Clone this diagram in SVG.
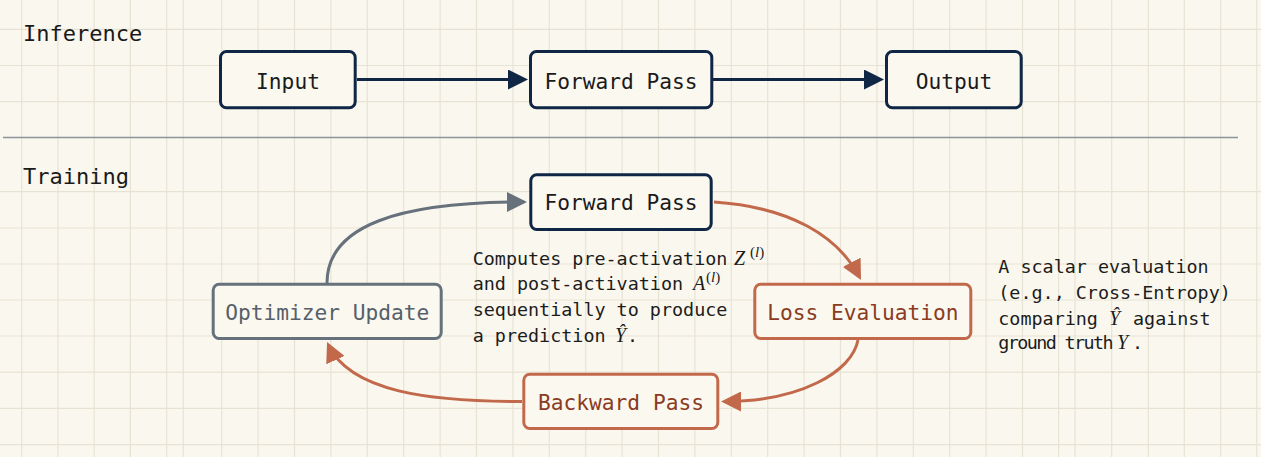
<svg xmlns="http://www.w3.org/2000/svg" width="1261" height="457" viewBox="0 0 1261 457">
  <defs>
    <style>
      .grid line { stroke: #e7e3d4; stroke-width: 1.2; }
      .box { fill: #fbf8f0; stroke-width: 3; }
      .navy { stroke: #0f2645; }
      .grey { stroke: #66717b; }
      .rust { stroke: #c2694b; }
      .lbl { font-family: "DejaVu Sans Mono", "Liberation Mono", monospace; font-size: 21.2px; text-anchor: middle; }
      .sec { font-family: "DejaVu Sans Mono", "Liberation Mono", monospace; font-size: 22px; fill: #1a1a1a; }
      .note { font-family: "DejaVu Sans Mono", "Liberation Mono", monospace; font-size: 18.4px; fill: #1c1c1c; }
      .m { font-family: "Liberation Serif", "DejaVu Serif", serif; font-style: italic; font-size: 20px; }
      .sup { font-family: "Liberation Serif", "DejaVu Serif", serif; font-size: 15px; }
      .conn { fill: none; stroke-width: 3; }
    </style>
    <marker id="ahNavy" viewBox="0 0 20 20" refX="17" refY="10" markerWidth="20" markerHeight="20" markerUnits="userSpaceOnUse" orient="auto">
      <path d="M0,0 L20,10 L0,20 z" fill="#0f2645"/>
    </marker>
    <marker id="ahGrey" viewBox="0 0 20 20" refX="17" refY="10" markerWidth="20" markerHeight="20" markerUnits="userSpaceOnUse" orient="auto">
      <path d="M0,0 L20,10 L0,20 z" fill="#66717b"/>
    </marker>
    <marker id="ahRust" viewBox="0 0 20 20" refX="17" refY="10" markerWidth="20" markerHeight="20" markerUnits="userSpaceOnUse" orient="auto">
      <path d="M0,0 L20,10 L0,20 z" fill="#c2694b"/>
    </marker>
  </defs>

  <rect x="0" y="0" width="1261" height="457" fill="#faf7ee"/>

  <g id="grid" class="grid">
    <line x1="21.7" y1="0" x2="21.7" y2="457"/>
    <line x1="58" y1="0" x2="58" y2="457"/>
    <line x1="94.2" y1="0" x2="94.2" y2="457"/>
    <line x1="130.4" y1="0" x2="130.4" y2="457"/>
    <line x1="166.7" y1="0" x2="166.7" y2="457"/>
    <line x1="183.3" y1="0" x2="183.3" y2="457"/>
    <line x1="221.7" y1="0" x2="221.7" y2="457"/>
    <line x1="258.1" y1="0" x2="258.1" y2="457"/>
    <line x1="294.5" y1="0" x2="294.5" y2="457"/>
    <line x1="330.9" y1="0" x2="330.9" y2="457"/>
    <line x1="367.3" y1="0" x2="367.3" y2="457"/>
    <line x1="403.7" y1="0" x2="403.7" y2="457"/>
    <line x1="440.1" y1="0" x2="440.1" y2="457"/>
    <line x1="476.5" y1="0" x2="476.5" y2="457"/>
    <line x1="512.9" y1="0" x2="512.9" y2="457"/>
    <line x1="549.3" y1="0" x2="549.3" y2="457"/>
    <line x1="585.7" y1="0" x2="585.7" y2="457"/>
    <line x1="622.1" y1="0" x2="622.1" y2="457"/>
    <line x1="658.5" y1="0" x2="658.5" y2="457"/>
    <line x1="694.9" y1="0" x2="694.9" y2="457"/>
    <line x1="731.3" y1="0" x2="731.3" y2="457"/>
    <line x1="767.7" y1="0" x2="767.7" y2="457"/>
    <line x1="804.1" y1="0" x2="804.1" y2="457"/>
    <line x1="840.5" y1="0" x2="840.5" y2="457"/>
    <line x1="876.9" y1="0" x2="876.9" y2="457"/>
    <line x1="913.3" y1="0" x2="913.3" y2="457"/>
    <line x1="949.7" y1="0" x2="949.7" y2="457"/>
    <line x1="986.1" y1="0" x2="986.1" y2="457"/>
    <line x1="1022.5" y1="0" x2="1022.5" y2="457"/>
    <line x1="1058.6" y1="0" x2="1058.6" y2="457"/>
    <line x1="1075" y1="0" x2="1075" y2="457"/>
    <line x1="1111.7" y1="0" x2="1111.7" y2="457"/>
    <line x1="1148.3" y1="0" x2="1148.3" y2="457"/>
    <line x1="1184.3" y1="0" x2="1184.3" y2="457"/>
    <line x1="1220.7" y1="0" x2="1220.7" y2="457"/>
    <line x1="1256.7" y1="0" x2="1256.7" y2="457"/>
    <line x1="0" y1="29.3" x2="1261" y2="29.3"/>
    <line x1="0" y1="65.5" x2="1261" y2="65.5"/>
    <line x1="0" y1="101.7" x2="1261" y2="101.7"/>
    <line x1="0" y1="191.7" x2="1261" y2="191.7"/>
    <line x1="0" y1="228" x2="1261" y2="228"/>
    <line x1="0" y1="264" x2="1261" y2="264"/>
    <line x1="0" y1="300" x2="1261" y2="300"/>
    <line x1="0" y1="336" x2="1261" y2="336"/>
    <line x1="0" y1="372.2" x2="1261" y2="372.2"/>
    <line x1="0" y1="408.4" x2="1261" y2="408.4"/>
    <line x1="0" y1="444.6" x2="1261" y2="444.6"/>
  </g>

  <line id="separator" x1="3" y1="137.5" x2="1238" y2="137.5" stroke="#8d949a" stroke-width="1.6"/>
  <text id="title-inference" class="sec" x="23" y="40.5">Inference</text>
  <text id="title-training" class="sec" x="23" y="184">Training</text>

  <g id="connectors">
    <line class="conn navy" x1="357" y1="79.5" x2="525" y2="79.5" marker-end="url(#ahNavy)"/>
    <line class="conn navy" x1="713" y1="79.5" x2="881" y2="79.5" marker-end="url(#ahNavy)"/>
    <path class="conn grey" d="M327,283 C327,225 400,202 524,202" marker-end="url(#ahGrey)"/>
    <path class="conn rust" d="M714,202 C790,207 838,236 859.6,277.3" marker-end="url(#ahRust)"/>
    <path class="conn rust" d="M858,340 C852,372 800,401.5 724,401.5" marker-end="url(#ahRust)"/>
    <path class="conn rust" d="M522,401.5 C430,401.5 350,392 328.3,344.7" marker-end="url(#ahRust)"/>
  </g>

  <g id="node-input">
    <rect class="box navy" x="220.5" y="51.5" width="134.7" height="56.3" rx="6"/>
    <text class="lbl" x="288" y="89" fill="#1a1a1a">Input</text>
  </g>
  <g id="node-forward-inference">
    <rect class="box navy" x="530.5" y="51.5" width="181.3" height="56.3" rx="6"/>
    <text class="lbl" x="621" y="88.5" fill="#1a1a1a">Forward Pass</text>
  </g>
  <g id="node-output">
    <rect class="box navy" x="886.5" y="51.5" width="134.7" height="56.3" rx="6"/>
    <text class="lbl" x="954" y="88.5" fill="#1a1a1a">Output</text>
  </g>

  <g id="node-forward-training">
    <rect class="box navy" x="530.8" y="174.8" width="180.4" height="54.7" rx="6"/>
    <text class="lbl" x="621" y="210" fill="#1a1a1a">Forward Pass</text>
  </g>
  <g id="node-optimizer">
    <rect class="box grey" x="213.2" y="284.2" width="228" height="54.3" rx="6"/>
    <text class="lbl" x="327.2" y="320" fill="#56606a">Optimizer Update</text>
  </g>
  <g id="node-loss">
    <rect class="box rust" x="754.8" y="284.2" width="216" height="54.3" rx="6"/>
    <text class="lbl" x="862.8" y="320" fill="#8a3b22">Loss Evaluation</text>
  </g>
  <g id="node-backward">
    <rect class="box rust" x="523.8" y="374.2" width="194" height="54.3" rx="6"/>
    <text class="lbl" x="621" y="410" fill="#8a3b22">Backward Pass</text>
  </g>

  <g id="note-forward">
    <text class="note" x="472.7" y="265">Computes pre-activation<tspan class="m" x="734">Z</tspan><tspan class="sup" x="750" dy="-8">(</tspan><tspan class="sup" font-style="italic">l</tspan><tspan class="sup">)</tspan></text>
    <text class="note" x="472.7" y="290">and post-activation<tspan class="m" x="693">A</tspan><tspan class="sup" x="706" dy="-8">(</tspan><tspan class="sup" font-style="italic">l</tspan><tspan class="sup">)</tspan></text>
    <text class="note" x="472.7" y="316">sequentially to produce</text>
    <text class="note" x="472.7" y="341.7">a prediction<tspan class="m" x="615">Ŷ</tspan><tspan x="627">.</tspan></text>
  </g>

  <g id="note-loss">
    <text class="note" x="998.3" y="273.3">A scalar evaluation</text>
    <text class="note" x="998.3" y="299">(e.g., Cross-Entropy)</text>
    <text class="note" x="998.3" y="325">comparing<tspan class="m" x="1109">Ŷ</tspan><tspan x="1133">against</tspan></text>
    <text class="note" x="998.3" y="349.3" letter-spacing="-1.6">ground truth<tspan class="m" letter-spacing="0" x="1117">Y</tspan><tspan letter-spacing="0" x="1132">.</tspan></text>
  </g>
</svg>
